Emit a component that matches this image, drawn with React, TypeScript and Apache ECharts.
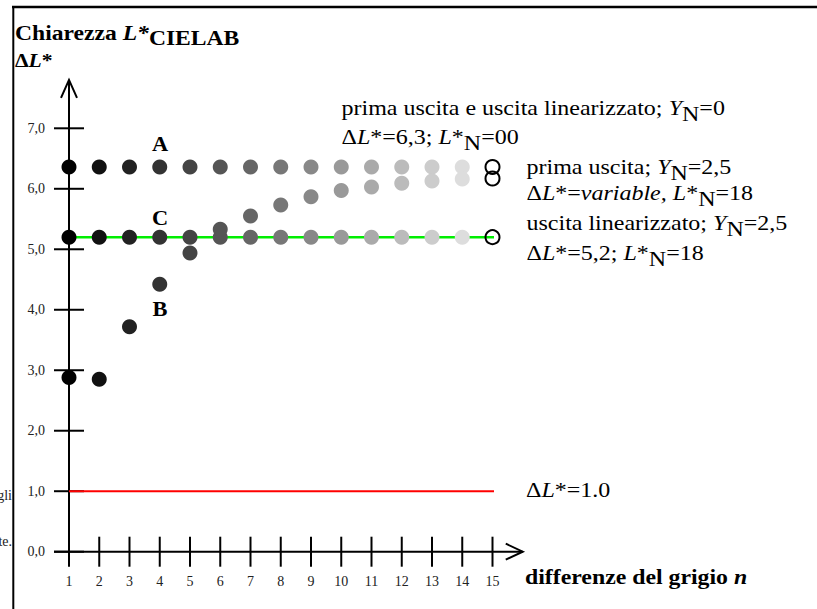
import React, { useEffect, useRef } from 'react';
import * as echarts from 'echarts';

// ---- data ----
const nValues = [1, 2, 3, 4, 5, 6, 7, 8, 9, 10, 11, 12, 13, 14, 15];
const yTickValues = [0, 1, 2, 3, 4, 5, 6, 7];
// A: prima uscita e uscita linearizzato; YN=0 (last point drawn as open circle)
const seriesA = [6.36, 6.36, 6.36, 6.36, 6.36, 6.36, 6.36, 6.36, 6.36, 6.36, 6.36, 6.36, 6.36, 6.36, 6.36];
// B: prima uscita; YN=2,5
const seriesB = [2.88, 2.85, 3.72, 4.42, 4.94, 5.33, 5.55, 5.73, 5.87, 5.97, 6.03, 6.09, 6.13, 6.16, 6.17];
// C: uscita linearizzato; YN=2,5
const seriesC = [5.2, 5.2, 5.2, 5.2, 5.2, 5.2, 5.2, 5.2, 5.2, 5.2, 5.2, 5.2, 5.2, 5.2, 5.2];
const redLine = [[1, 1.0], [15.95, 1.0]];
const greenLine = [[1, 5.2], [16, 5.2]];

const SERIF = '"Liberation Serif", "Times New Roman", Times, serif';

function gray(i: number) {
  const v = Math.min(255, i * 17);
  const h = v.toString(16).padStart(2, '0');
  return '#' + h + h + h;
}

function filled(vals: number[]) {
  return vals.slice(0, 14).map((v, i) => ({ value: [nValues[i], v], itemStyle: { color: gray(i), opacity: 1 } }));
}

function richSet(size: number, bold: boolean, sub: number) {
  const base = (extra: any) => ({
    fontFamily: SERIF,
    fontSize: size,
    lineHeight: size,
    fontWeight: bold ? 'bold' : 'normal',
    color: '#000',
    ...extra,
  });
  return {
    n: base({ padding: [0, 0, sub, 0] }),
    i: base({ fontStyle: 'italic', padding: [0, 0, sub, 0] }),
    s: base({ padding: [sub, 0, 0, 0] }),
  };
}

function rt(parts: [string, string][]) {
  return parts.map(([k, t]) => '{' + k + '|' + t + '}').join('');
}

function textEl(x: number, capCenter: number, parts: [string, string][], size: number, bold: boolean, scaleX: number, sub = 6, align = 'left') {
  return {
    type: 'text',
    x,
    y: capCenter - size / 2 + (sub > 0 ? 3.5 : 0),
    scaleX,
    z: 10,
    style: {
      text: rt(parts),
      rich: richSet(size, bold, sub),
      align,
      verticalAlign: 'top',
    },
  };
}

export default function App() {
  const ref = useRef<HTMLDivElement>(null);
  useEffect(() => {
    const chart = echarts.init(ref.current!, null, { renderer: 'svg' });
    const option: any = {
      animation: false,
      backgroundColor: '#fff',
      grid: { left: 69, right: 324.5, top: 128.3, bottom: 57.3, containLabel: false, outerBoundsMode: 'none' },
      xAxis: {
        type: 'value',
        min: nValues[0],
        max: nValues[nValues.length - 1],
        interval: 1,
        axisLine: { show: false },
        axisTick: { show: false },
        splitLine: { show: false },
        axisLabel: { color: '#222', fontFamily: SERIF, fontSize: 14, margin: 23 },
      },
      yAxis: {
        type: 'value',
        min: yTickValues[0],
        max: yTickValues[yTickValues.length - 1],
        interval: 1,
        axisLine: { show: false },
        axisTick: { show: false },
        splitLine: { show: false },
        axisLabel: {
          color: '#222', fontFamily: SERIF, fontSize: 14, margin: 24,
          formatter: (v: number) => v.toFixed(1).replace('.', ','),
        },
      },
      series: [
        { type: 'line', data: redLine, clip: false, symbol: 'none', lineStyle: { color: '#ff0000', width: 2 }, z: 1 },
        { type: 'line', data: greenLine, clip: false, symbol: 'none', lineStyle: { color: '#00ee00', width: 2.5 }, z: 1 },
        { type: 'scatter', data: filled(seriesA), symbolSize: 15, clip: false, z: 3, itemStyle: { opacity: 1 } },
        { type: 'scatter', data: filled(seriesC), symbolSize: 15, clip: false, z: 3, itemStyle: { opacity: 1 } },
        { type: 'scatter', data: filled(seriesB), symbolSize: 15, clip: false, z: 3, itemStyle: { opacity: 1 } },
        {
          type: 'scatter',
          data: [[nValues[14], seriesA[14]], [nValues[14], seriesB[14]], [nValues[14], seriesC[14]]],
          symbolSize: 14,
          clip: false,
          z: 4,
          itemStyle: { color: 'rgba(255,255,255,0)', borderColor: '#000', borderWidth: 2, opacity: 1 },
        },
      ],
    };
    chart.setOption(option);

    const P = (x: number, y: number) => chart.convertToPixel({ gridIndex: 0 }, [x, y]) as number[];
    const origin = P(nValues[0], 0);
    const xTip = P(16, 0);
    const yTip = P(nValues[0], 7.8);
    const stroke = { stroke: '#000', lineWidth: 2, fill: 'none' };
    const g: any[] = [];
    // frame
    g.push({ type: 'line', shape: { x1: 12, y1: 7, x2: 817, y2: 7 }, style: { stroke: '#000', lineWidth: 2.3 } });
    g.push({ type: 'line', shape: { x1: 13.3, y1: 6, x2: 13.3, y2: 609 }, style: { stroke: '#000', lineWidth: 2 } });
    // axes
    g.push({ type: 'line', shape: { x1: origin[0] - 15, y1: origin[1], x2: xTip[0], y2: xTip[1] }, style: stroke });
    g.push({ type: 'line', shape: { x1: origin[0], y1: origin[1], x2: yTip[0], y2: yTip[1] }, style: stroke });
    g.push({ type: 'polyline', shape: { points: [[xTip[0] - 17, xTip[1] - 8], [xTip[0], xTip[1]], [xTip[0] - 17, xTip[1] + 8]] }, style: stroke });
    g.push({ type: 'polyline', shape: { points: [[yTip[0] - 8, yTip[1] + 18], [yTip[0], yTip[1]], [yTip[0] + 8, yTip[1] + 18]] }, style: stroke });
    nValues.forEach((n) => {
      const p = P(n, 0);
      g.push({ type: 'line', shape: { x1: p[0], y1: p[1] - 15, x2: p[0], y2: p[1] + 15 }, style: stroke });
    });
    yTickValues.forEach((v) => {
      const p = P(nValues[0], v);
      g.push({ type: 'line', shape: { x1: p[0] - 15, y1: p[1], x2: p[0] + 15, y2: p[1] }, style: stroke });
    });

    // texts
    g.push(textEl(15, 33, [['n', 'Chiarezza '], ['i', 'L*'], ['s', 'CIELAB']], 20, true, 1.18, 5));
    g.push(textEl(15, 61, [['n', 'Δ'], ['i', 'L'], ['n', '*']], 18, true, 1.2, 0));
    g.push(textEl(341.5, 108, [['n', 'prima uscita e uscita linearizzato; '], ['i', 'Y'], ['s', 'N'], ['n', '=0']], 20, false, 1.2));
    g.push(textEl(341.5, 137, [['n', 'Δ'], ['i', 'L'], ['n', '*=6,3; '], ['i', 'L'], ['n', '*'], ['s', 'N'], ['n', '=00']], 20, false, 1.2));
    g.push(textEl(526.5, 167, [['n', 'prima uscita; '], ['i', 'Y'], ['s', 'N'], ['n', '=2,5']], 20, false, 1.2));
    g.push(textEl(526.5, 193, [['n', 'Δ'], ['i', 'L'], ['n', '*='], ['i', 'variable,'], ['n', ' '], ['i', 'L'], ['n', '*'], ['s', 'N'], ['n', '=18']], 20, false, 1.2));
    g.push(textEl(526.5, 223, [['n', 'uscita linearizzato; '], ['i', 'Y'], ['s', 'N'], ['n', '=2,5']], 20, false, 1.2));
    g.push(textEl(526.5, 253, [['n', 'Δ'], ['i', 'L'], ['n', '*=5,2; '], ['i', 'L'], ['n', '*'], ['s', 'N'], ['n', '=18']], 20, false, 1.2));
    g.push(textEl(526, 490, [['n', 'Δ'], ['i', 'L'], ['n', '*=1.0']], 20, false, 1.2, 0));
    g.push(textEl(525, 577, [['n', 'differenze del grigio '], ['i', 'n']], 20, true, 1.19, 0));
    g.push(textEl(160, 144, [['n', 'A']], 20, true, 1.12, 0, 'center'));
    g.push(textEl(160, 218, [['n', 'C']], 20, true, 1.12, 0, 'center'));
    g.push(textEl(160, 309, [['n', 'B']], 20, true, 1.12, 0, 'center'));
    g.push({ type: 'text', x: 12, y: 495, style: { text: 'gli', fontFamily: SERIF, fontSize: 14, fill: '#222', align: 'right', verticalAlign: 'middle' } });
    g.push({ type: 'text', x: 12, y: 541, style: { text: 'te.', fontFamily: SERIF, fontSize: 14, fill: '#222', align: 'right', verticalAlign: 'middle' } });

    chart.setOption({ graphic: g });
    return () => chart.dispose();
  }, []);
  return <div ref={ref} style={{ position: 'absolute', left: 0, top: 0, width: 817, height: 609 }} />;
}
